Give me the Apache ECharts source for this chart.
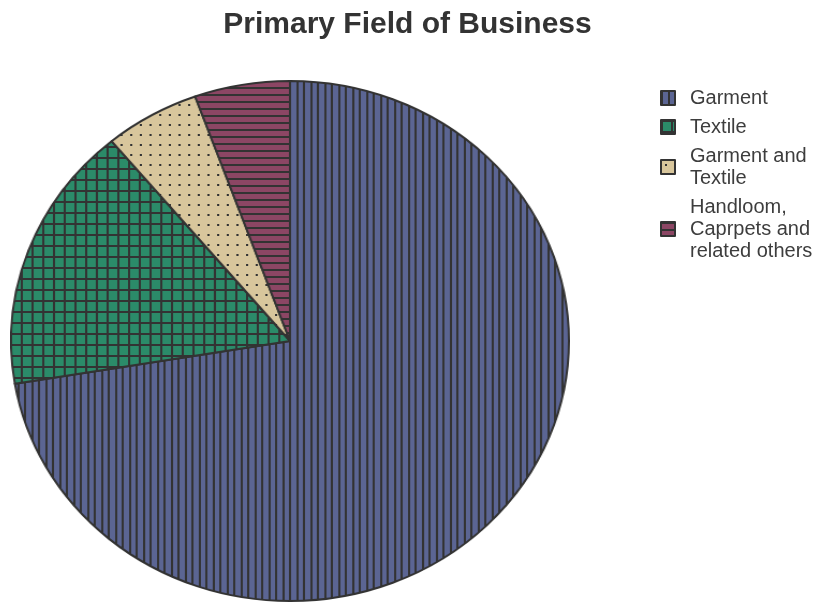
<!DOCTYPE html>
<html>
<head>
<meta charset="utf-8">
<script src="https://cdn.jsdelivr.net/npm/echarts@6/dist/echarts.min.js"></script>
<style>
    html, body { margin: 0; padding: 0; background: #fff; }
    #wrap { position: relative; width: 815px; height: 603px; overflow: hidden; }
    #legend-box { position: absolute; left: 0; top: 0; width: 815px; height: 603px; }
    /* the original pie is a bit wider than tall, so stretch the pie canvas */
    #pie-box { position: absolute; left: 29px; top: 80px; width: 522px; height: 522px;
               transform: scaleX(1.0728); transform-origin: 50% 50%; }
</style>
</head>
<body>
<div id="wrap">
    <div id="legend-box"></div>
    <div id="pie-box"></div>
</div>
<script>
var categories = ['Garment', 'Textile', 'Garment and\nTextile', 'Handloom,\nCaprpets and\nrelated others'];
var values = [131, 30, 10, 10];

var ink = '#333';

function makePattern(w, h, bg, draw) {
    var c = document.createElement('canvas');
    c.width = w;
    c.height = h;
    var ctx = c.getContext('2d');
    ctx.fillStyle = bg;
    ctx.fillRect(0, 0, w, h);
    ctx.fillStyle = ink;
    draw(ctx, w, h);
    return {image: c, repeat: 'repeat'};
}

var fills = [
    // vertical lines
    makePattern(13, 4, '#5b6593', function (ctx, w, h) {
        ctx.fillRect(0, 0, 2, h);
        ctx.fillRect(7, 0, 2, h);
    }),
    // grid
    makePattern(10, 11, '#2b8b69', function (ctx, w, h) {
        ctx.fillRect(0, 0, 2, h);
        ctx.fillRect(0, 0, w, 2);
    }),
    // dots
    makePattern(9, 10, '#d8c69c', function (ctx) {
        ctx.fillRect(4, 4, 2, 2);
    }),
    // horizontal lines
    makePattern(4, 7, '#8c4664', function (ctx, w) {
        ctx.fillRect(0, 0, w, 2);
    })
];

function pieData() {
    return categories.map(function (name, i) {
        return {name: name, value: values[i], itemStyle: {color: fills[i]}};
    });
}

// pie
var dom = document.getElementById('pie-box');
var myChart = echarts.init(dom);
option = {
    animation: false,
    series: [{
        type: 'pie',
        radius: 260,
        center: ['50%', '50%'],
        startAngle: 90,
        clockwise: true,
        label: {show: false},
        labelLine: {show: false},
        itemStyle: {borderColor: ink, borderWidth: 2},
        emphasis: {disabled: true},
        data: pieData()
    }]
};
myChart.setOption(option, true);

// title + legend
var dom2 = document.getElementById('legend-box');
var myChart2 = echarts.init(dom2);
option2 = {
    animation: false,
    title: {
        text: 'Primary Field of Business',
        left: 'center',
        top: 5,
        textStyle: {
            fontFamily: 'Liberation Sans',
            fontSize: 30,
            fontWeight: 'bold',
            color: '#333'
        }
    },
    legend: {
        orient: 'vertical',
        left: 655,
        top: 82,
        icon: 'rect',
        itemWidth: 14,
        itemHeight: 14,
        itemGap: 7,
        selectedMode: false,
        textStyle: {
            fontFamily: 'Liberation Sans',
            fontSize: 20,
            lineHeight: 22,
            color: '#3d3d3d',
            padding: [0, 0, 0, 10]
        },
        data: categories
    },
    series: [{
        // only feeds the legend, drawn off screen
        type: 'pie',
        radius: 1,
        center: [-100, -100],
        silent: true,
        label: {show: false},
        labelLine: {show: false},
        itemStyle: {borderColor: ink, borderWidth: 2},
        data: pieData()
    }]
};
myChart2.setOption(option2, true);
</script>
</body>
</html>
